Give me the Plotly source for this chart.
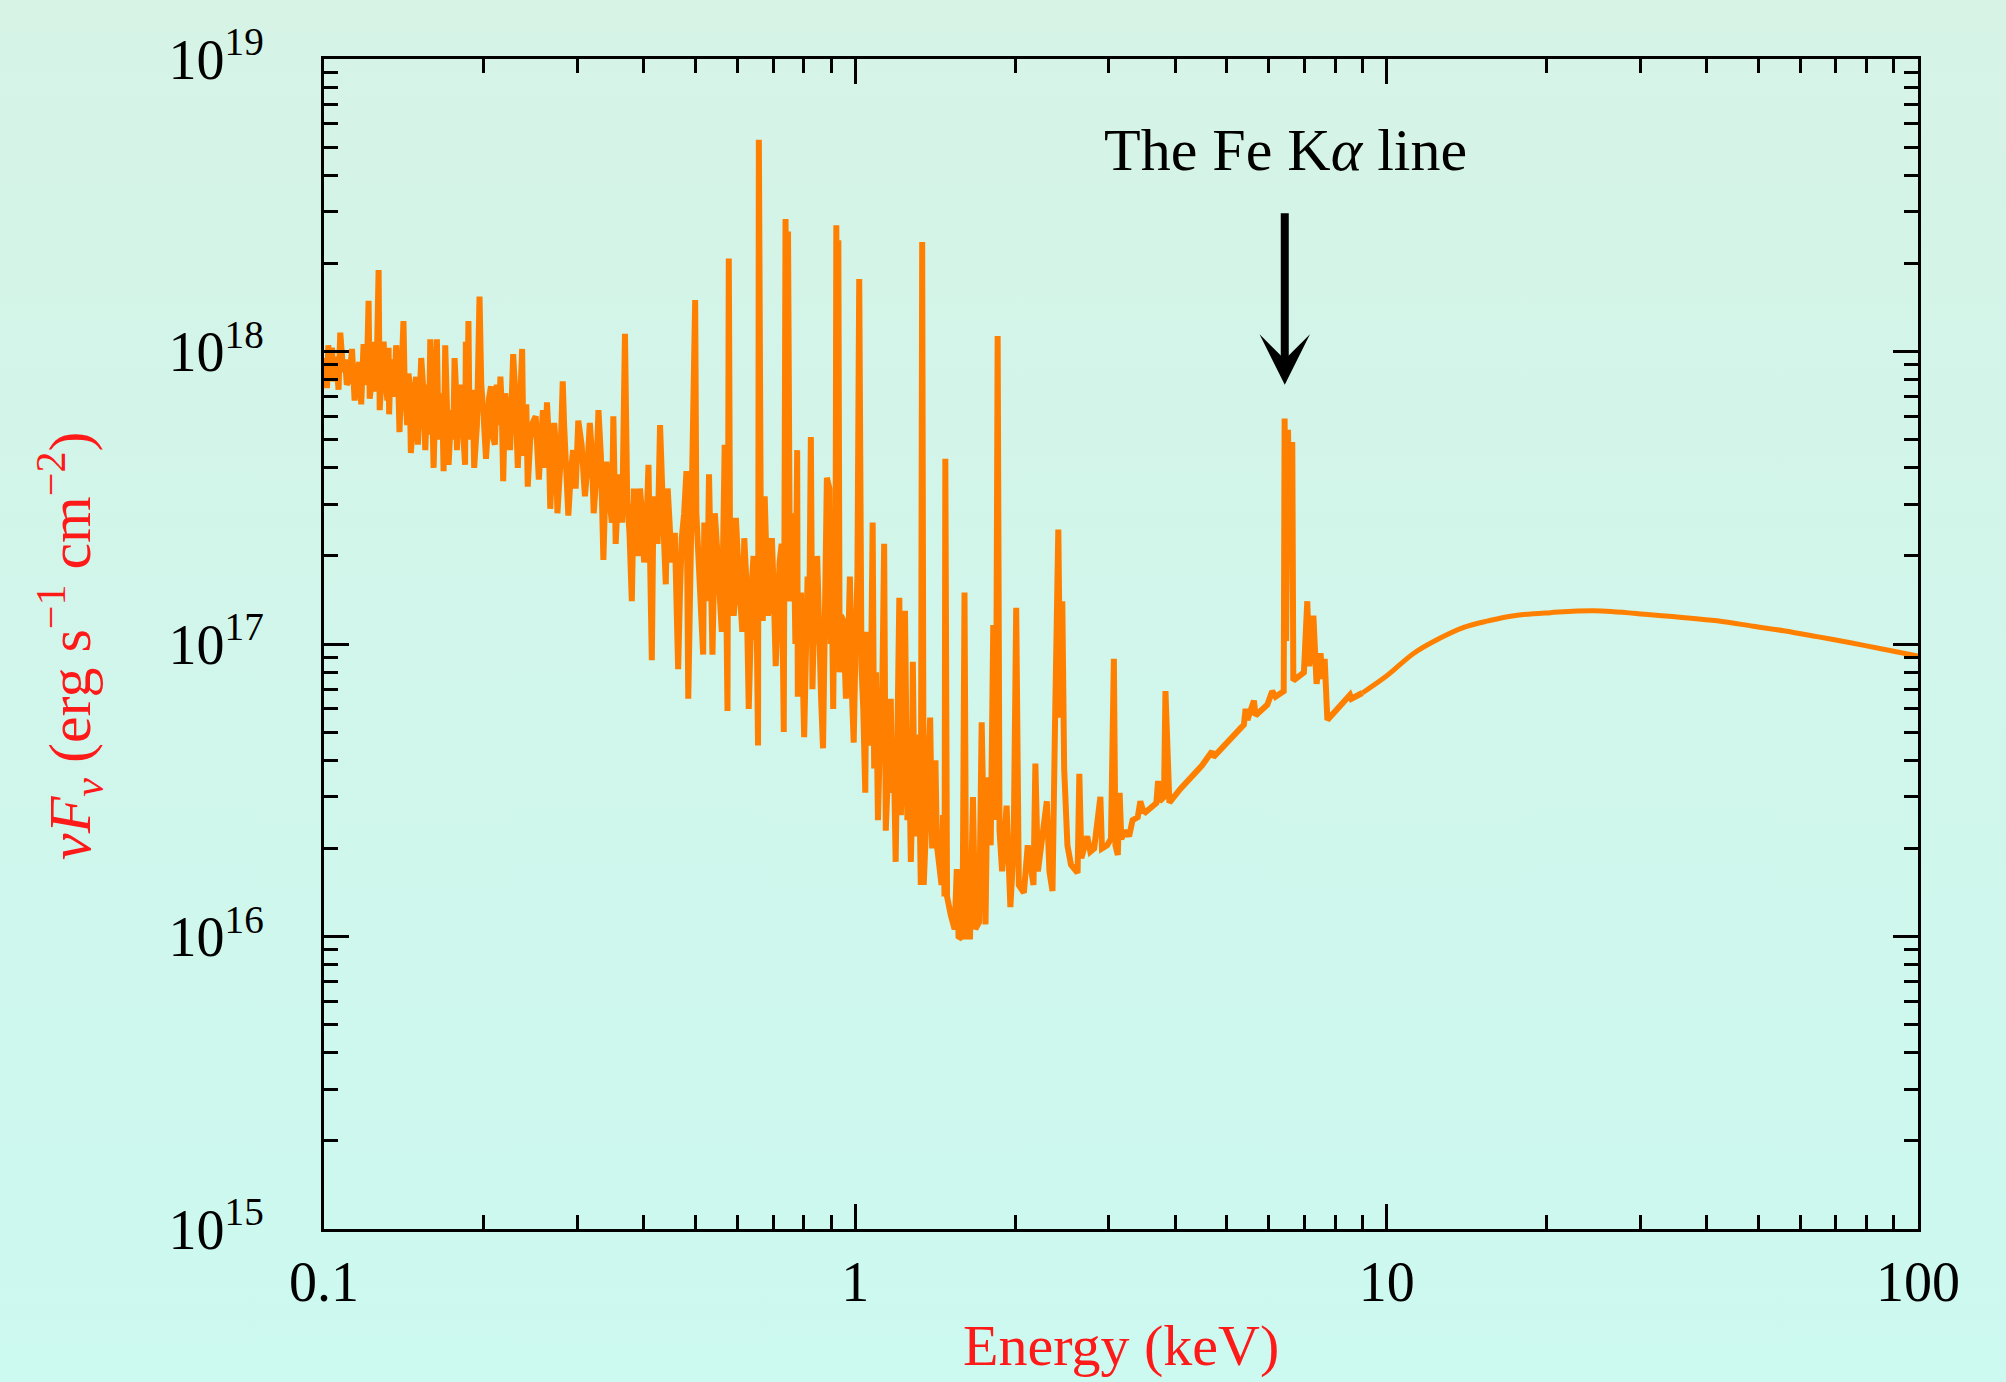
import base64
import math
import plotly.graph_objects as go

# ---------------- data ----------------
# main spectrum readings: energy (keV) and nuF_nu (erg s^-1 cm^-2)
energy_keV = [
    0.1000, 0.1013, 0.1019, 0.1035, 0.1042, 0.1057, 0.1073, 0.1087, 0.1104, 0.1129,
    0.1142, 0.1155, 0.1175, 0.1187, 0.1200, 0.1213, 0.1219, 0.1234, 0.1248, 0.1267,
    0.1273, 0.1295, 0.1308, 0.1323, 0.1326, 0.1344, 0.1367, 0.1387, 0.1411, 0.1425,
    0.1442, 0.1457, 0.1478, 0.1502, 0.1524, 0.1551, 0.1567, 0.1585, 0.1608, 0.1631,
    0.1656, 0.1679, 0.1691, 0.1716, 0.1741, 0.1761, 0.1779, 0.1809, 0.1843, 0.1849,
    0.1870, 0.1890, 0.1917, 0.1962, 0.1977, 0.2018, 0.2044, 0.2080, 0.2114, 0.2148,
    0.2174, 0.2212, 0.2270, 0.2316, 0.2360, 0.2388, 0.2418, 0.2470, 0.2537, 0.2582,
    0.2628, 0.2666, 0.2712, 0.2750, 0.2814, 0.2848, 0.2883, 0.2943, 0.3010, 0.3098,
    0.3164, 0.3218, 0.3285, 0.3356, 0.3401, 0.3458, 0.3504, 0.3540, 0.3594, 0.3685,
    0.3721, 0.3796, 0.3865, 0.3933, 0.4003, 0.4080, 0.4140, 0.4199, 0.4290, 0.4363,
    0.4434, 0.4508, 0.4640, 0.4714, 0.4810, 0.4848, 0.4932, 0.4995, 0.5047, 0.5171,
    0.5224, 0.5304, 0.5384, 0.5440, 0.5535, 0.5677, 0.5746, 0.5779, 0.5810, 0.5903,
    0.5960, 0.6074, 0.6180, 0.6301, 0.6396, 0.6470, 0.6560, 0.6583, 0.6640, 0.6752,
    0.6849, 0.6965, 0.7082, 0.7200, 0.7334, 0.7390, 0.7430, 0.7470, 0.7534, 0.7652,
    0.7772, 0.7794, 0.8011, 0.8130, 0.8247, 0.8361, 0.8475, 0.8550, 0.8694, 0.8840,
    0.8940, 0.9037, 0.9133, 0.9209, 0.9250, 0.9290, 0.9396, 0.9600, 0.9767, 0.9930,
    1.009, 1.017, 1.027, 1.044, 1.056, 1.078, 1.085, 1.103, 1.115, 1.133,
    1.141, 1.160, 1.173, 1.191, 1.210, 1.226, 1.240, 1.253, 1.272, 1.283,
    1.295, 1.315, 1.328, 1.336, 1.345, 1.383, 1.406, 1.424, 1.453, 1.472,
    1.477, 1.488, 1.513, 1.538, 1.552, 1.564, 1.578, 1.591, 1.605, 1.617,
    1.644, 1.665, 1.682, 1.710, 1.729, 1.748, 1.758, 1.773, 1.798, 1.818,
    1.838, 1.853, 1.868, 1.889, 1.926, 1.958, 1.986, 2.008, 2.031, 2.076,
    2.111, 2.164, 2.182, 2.206, 2.243, 2.293, 2.319, 2.350, 2.377, 2.410,
    2.432, 2.452, 2.472, 2.507, 2.546, 2.620, 2.640, 2.663, 2.731, 2.769,
    2.815, 2.892, 2.912, 2.977, 3.028, 3.066, 3.087, 3.119, 3.144, 3.166,
    3.235, 3.275, 3.325, 3.401, 3.439, 3.478, 3.517, 3.686, 3.713, 3.737,
    3.810, 3.834, 3.900, 4.093, 4.491, 4.694, 4.718, 5.042, 5.387, 5.426,
    5.469, 5.625, 5.666, 5.962, 6.089, 6.177, 6.401, 6.426, 6.467, 6.521,
    6.565, 6.643, 6.673, 6.986, 7.089, 7.151, 7.279, 7.380, 7.509, 7.568,
    7.644, 7.734, 8.306, 8.422, 8.530, 8.585, 8.998,
]

nuFnu = [
    9.5e17, 7.5e17, 1.05e18, 1.03e18, 7.9e17, 8.9e17, 1.16e18, 8.5e17, 7.7e17, 1.02e18,
    6.8e17, 8.5e17, 6.6e17, 1.06e18, 7.7e17, 1.49e18, 6.9e17, 1.08e18, 8.5e17, 1.9e18,
    6.3e17, 1.08e18, 7.7e17, 1.03e18, 6.1e17, 8.5e17, 1.05e18, 5.3e17, 1.27e18, 6.3e17,
    8.4e17, 4.5e17, 6.9e17, 4.8e17, 9.5e17, 4.6e17, 7.7e17, 1.1e18, 4.0e17, 1.1e18,
    5.7e17, 3.9e17, 1.05e18, 4.1e17, 6.3e17, 9.5e17, 4.6e17, 7.7e17, 4.1e17, 1.08e18,
    1.27e18, 6.3e17, 4.0e17, 1.54e18, 7.7e17, 4.3e17, 6.9e17, 5.1e17, 7.7e17, 8.2e17,
    3.6e17, 6.3e17, 9.8e17, 4.0e17, 1.02e18, 5.7e17, 3.45e17, 5.7e17, 3.65e17, 6.3e17,
    6.7e17, 2.9e17, 5.7e17, 2.8e17, 7.9e17, 4.2e17, 2.75e17, 4.6e17, 5.8e17, 3.2e17,
    5.7e17, 2.8e17, 6.3e17, 1.94e17, 4.2e17, 2.8e17, 6.0e17, 2.2e17, 3.8e17, 1.15e18,
    3.1e17, 1.4e17, 2.3e17, 3.4e17, 1.9e17, 4.1e17, 8.8e16, 2.8e17, 5.6e17, 2.3e17,
    3.4e17, 1.9e17, 8.2e16, 2.3e17, 3.9e17, 6.5e16, 2.1e17, 1.5e18, 2.3e17, 9.2e16,
    2.1e17, 3.8e17, 9.2e16, 2.8e17, 1.7e17, 4.8e17, 5.9e16, 2.08e18, 2.3e17, 1.25e17,
    2.7e17, 1.5e17, 2.3e17, 6.0e16, 1.7e17, 1.03e17, 4.5e16, 5.3e18, 2.3e17, 3.2e17,
    1.25e17, 2.3e17, 8.4e16, 1.9e17, 5.0e16, 2.84e18, 3.0e17, 2.57e18, 1.4e17, 2.8e17,
    4.6e17, 6.6e16, 4.8e16, 1.7e17, 5.1e17, 1.25e17, 2.0e17, 8.4e16, 4.4e16, 3.7e17,
    3.4e17, 1.4e17, 1.6e17, 2.7e18, 4.0e17, 2.4e18, 1.25e17, 6.5e16, 1.7e17, 4.6e16,
    1.7e17, 1.77e18, 8.4e16, 3.1e16, 5.6e16, 2.6e17, 3.75e16, 2.5e16, 5.6e16, 2.2e17,
    2.3e16, 4.6e16, 3.1e16, 1.8e16, 1.44e17, 3.75e16, 1.3e17, 2.5e16, 1.8e16, 8.7e16,
    3.1e16, 4.9e16, 1.5e16, 2.37e18, 1.5e16, 5.6e16, 3.3e16, 2.05e16, 1.5e16, 1.37e16,
    4.3e17, 1.37e16, 1.18e16, 1.06e16, 1.7e16, 1.0e16, 0.99e16, 1.0e16, 1.5e17, 1.0e16,
    1.0e16, 3.0e16, 1.06e16, 1.12e16, 5.4e16, 1.12e16, 1.1e16, 3.5e16, 2.05e16, 1.16e17,
    2.5e16, 1.13e18, 2.3e16, 1.67e16, 2.8e16, 1.26e16, 2.05e16, 1.33e17, 1.5e16, 1.41e16,
    2.05e16, 1.5e16, 3.9e16, 1.67e16, 2.05e16, 2.9e16, 1.67e16, 1.43e16, 5.6e16, 2.46e17,
    5.6e16, 1.4e17, 3.75e16, 2.05e16, 1.76e16, 1.65e16, 3.6e16, 1.85e16, 2.2e16, 1.95e16,
    2.0e16, 3.0e16, 2.0e16, 2.05e16, 2.16e16, 8.9e16, 2.05e16, 1.9e16, 3.1e16, 2.16e16,
    2.3e16, 2.2e16, 2.5e16, 2.56e16, 2.9e16, 2.7e16, 2.66e16, 2.86e16, 3.4e16, 2.9e16,
    3.0e16, 6.9e16, 2.87e16, 3.2e16, 3.84e16, 4.3e16, 4.1e16, 4.7e16, 5.3e16, 6.0e16,
    5.5e16, 6.4e16, 5.7e16, 6.2e16, 6.9e16, 6.6e16, 6.9e16, 5.9e17, 1.025e17, 5.4e17,
    2.3e17, 4.9e17, 7.5e16, 8.0e16, 1.4e17, 8.4e16, 1.25e17, 7.3e16, 9.3e16, 7.6e16,
    8.9e16, 5.5e16, 6.4e16, 6.6e16, 6.7e16, 6.5e16, 6.8e16,
]

# additional readings of the dense noisy band below ~1.5 keV
band_energy_keV = [
    0.1006, 0.1026, 0.1049, 0.1065, 0.1095, 0.1116, 0.1135, 0.1165, 0.1193, 0.1206,
    0.1226, 0.1241, 0.1258, 0.1284, 0.1316, 0.1335, 0.1355, 0.1377, 0.1398, 0.1418,
    0.1434, 0.1450, 0.1467, 0.1490, 0.1513, 0.1538, 0.1559, 0.1576, 0.1596, 0.1620,
    0.1643, 0.1668, 0.1703, 0.1728, 0.1751, 0.1770, 0.1794, 0.1825, 0.1860, 0.1880,
    0.1903, 0.1940, 0.1997, 0.2031, 0.2062, 0.2097, 0.2131, 0.2160, 0.2193, 0.2240,
    0.2293, 0.2338, 0.2374, 0.2403, 0.2444, 0.2503, 0.2560, 0.2605, 0.2647, 0.2690,
    0.2731, 0.2782, 0.2831, 0.2865, 0.2913, 0.2976, 0.3054, 0.3131, 0.3191, 0.3251,
    0.3320, 0.3379, 0.3430, 0.3481, 0.3567, 0.3640, 0.3758, 0.3830, 0.3899, 0.3968,
    0.4041, 0.4110, 0.4170, 0.4245, 0.4326, 0.4398, 0.4471, 0.4574, 0.4677, 0.4762,
    0.4890, 0.5021, 0.5109, 0.5197, 0.5264, 0.5344, 0.5412, 0.5487, 0.5606, 0.5711,
    0.5856, 0.5931, 0.6017, 0.6127, 0.6240, 0.6348, 0.6433, 0.6515, 0.6696, 0.6800,
    0.6907, 0.7023, 0.7141, 0.7267, 0.7593, 0.7712, 0.7900, 0.8070, 0.8190, 0.8304,
    0.8418, 0.8512, 0.8622, 0.8767, 0.8988, 0.9085, 0.9171, 0.9343, 0.9498, 0.9683,
    0.9848, 1.001, 1.035, 1.050, 1.067, 1.094, 1.109, 1.124, 1.150, 1.166,
    1.182, 1.200, 1.218, 1.233, 1.246, 1.262, 1.277, 1.289, 1.305, 1.321,
    1.360, 1.395, 1.415, 1.437, 1.462,
]
band_nuFnu = [
    8.0e17, 8.6e17, 9.6e17, 7.4e17, 9.4e17, 8.0e17, 8.8e17, 9.2e17, 8.0e17, 9.5e17,
    7.6e17, 7.3e17, 9.8e17, 8.4e17, 6.8e17, 9.4e17, 7.0e17, 8.9e17, 7.4e17, 8.0e17,
    5.6e17, 7.7e17, 5.5e17, 8.2e17, 6.2e17, 7.4e17, 6.0e17, 5.2e17, 7.3e17, 6.6e17,
    5.0e17, 7.2e17, 7.6e17, 5.3e17, 5.0e17, 7.8e17, 6.8e17, 5.5e17, 6.0e17, 5.0e17,
    7.4e17, 5.6e17, 6.0e17, 5.2e17, 7.6e17, 4.8e17, 5.6e17, 6.5e17, 7.2e17, 4.6e17,
    7.0e17, 6.4e17, 4.4e17, 6.6e17, 5.0e17, 6.0e17, 4.8e17, 4.0e17, 5.2e17, 4.2e17,
    4.8e17, 4.0e17, 5.6e17, 3.6e17, 3.8e17, 3.4e17, 4.8e17, 4.0e17, 4.6e17, 3.6e17,
    4.4e17, 3.0e17, 3.4e17, 2.6e17, 3.0e17, 2.6e17, 2.4e17, 3.4e17, 2.0e17, 2.8e17,
    2.4e17, 2.0e17, 3.2e17, 2.2e17, 3.0e17, 1.6e17, 2.6e17, 2.4e17, 1.5e17, 2.8e17,
    1.6e17, 2.8e17, 1.8e17, 2.6e17, 1.4e17, 1.9e17, 1.5e17, 2.2e17, 1.1e17, 2.2e17,
    1.8e17, 1.4e17, 1.9e17, 1.1e17, 1.6e17, 1.2e17, 2.0e17, 1.4e17, 1.2e17, 2.0e17,
    1.4e17, 1.5e17, 1.2e17, 2.2e17, 2.0e17, 1.0e17, 1.5e17, 9.0e16, 1.2e17, 7.0e16,
    1.0e17, 1.5e17, 6.5e16, 1.2e17, 1.0e17, 6.0e16, 9.0e16, 8.0e16, 1.2e17, 9.0e16,
    7.0e16, 1.0e17, 6.0e16, 1.1e17, 4.5e16, 8.0e16, 4.0e16, 7.0e16, 3.6e16, 6.5e16,
    4.0e16, 6.0e16, 2.6e16, 5.0e16, 3.4e16, 4.4e16, 2.5e16, 4.0e16, 2.2e16, 3.0e16,
    2.5e16, 2.0e16, 4.0e16, 1.8e16, 2.6e16,
]

# smooth high-energy continuum readings (from 9 keV to 100 keV)
cont_energy_keV = [8.998, 10.02, 11.25, 12.51, 13.97, 15.53, 17.35, 20.33, 24.54,
                   31.37, 41.88, 48.95, 55.89, 64.57, 74.65, 86.13, 100.0]
cont_nuFnu = [6.8e16, 7.8e16, 9.3e16, 1.04e17, 1.14e17, 1.20e17, 1.25e17, 1.28e17, 1.30e17,
              1.26e17, 1.20e17, 1.15e17, 1.11e17, 1.06e17, 1.01e17, 9.6e16, 9.1e16]

x_tick_values = [0.1, 1, 10, 100]
x_tick_labels = ["0.1", "1", "10", "100"]
y_tick_values = [1e15, 1e16, 1e17, 1e18, 1e19]
y_tick_labels = ["10<sup>15</sup>", "10<sup>16</sup>", "10<sup>17</sup>",
                 "10<sup>18</sup>", "10<sup>19</sup>"]
x_minor_values = [m * d for d in (0.1, 1, 10) for m in range(2, 10)]
y_minor_values = [m * d for d in (1e15, 1e16, 1e17, 1e18) for m in range(2, 10)]

fe_line_energy = 6.43      # keV, where the arrow points
fe_arrow_tip_flux = 7.7e17

# merge the line-rich readings in energy order
pairs = sorted(zip(energy_keV + band_energy_keV, nuFnu + band_nuFnu), key=lambda p: p[0])
spec_x = [p[0] for p in pairs]
spec_y = [p[1] for p in pairs]

# ---------------- figure ----------------
FONT = "Liberation Serif, Times New Roman, serif"
W, H = 2006, 1382
L, R, T, B = 324, 88, 59, 153
pw, ph = W - L - R, H - T - B
ORANGE = "#ff8000"
LW = 6

svg = ('<svg xmlns="http://www.w3.org/2000/svg" width="100" height="100" '
       'viewBox="0 0 100 100" preserveAspectRatio="none">'
       '<defs><linearGradient id="g" x1="0" y1="0" x2="0" y2="1">'
       '<stop offset="0" stop-color="#d6f3e6"/>'
       '<stop offset="1" stop-color="#ccf9f0"/>'
       '</linearGradient></defs>'
       '<rect x="0" y="0" width="100" height="100" fill="url(#g)"/></svg>')
bg_src = "data:image/svg+xml;base64," + base64.b64encode(svg.encode()).decode()

fig = go.Figure()
fig.add_trace(go.Scatter(
    x=spec_x, y=spec_y, mode="lines",
    line=dict(color=ORANGE, width=LW),
    showlegend=False, hoverinfo="skip",
))
fig.add_trace(go.Scatter(
    x=cont_energy_keV, y=cont_nuFnu, mode="lines",
    line=dict(color=ORANGE, width=LW - 1, shape="spline", smoothing=1.0),
    showlegend=False, hoverinfo="skip",
))

axis_common = dict(
    type="log", showline=True, linecolor="black", linewidth=3,
    mirror="ticks", ticks="inside", ticklen=25, tickwidth=2.5, tickcolor="black",
    showgrid=False, zeroline=False,
    tickfont=dict(family=FONT, size=56, color="black"),
)

fig.update_xaxes(
    **axis_common, range=[-1, 2],
    tickmode="array", tickvals=x_tick_values, ticktext=x_tick_labels,
    minor=dict(ticks="inside", ticklen=14, tickwidth=2.5, tickcolor="black",
               tickmode="array", tickvals=x_minor_values, showgrid=False),
    ticklabelstandoff=2,
)
fig.update_yaxes(
    **axis_common, range=[15, 19],
    tickmode="array", tickvals=y_tick_values, ticktext=y_tick_labels,
    minor=dict(ticks="inside", ticklen=14, tickwidth=2.5, tickcolor="black",
               tickmode="array", tickvals=y_minor_values, showgrid=False),
    ticklabelstandoff=46,
)

annotations = [
    dict(text="The Fe K<i>α</i> line", xref="paper", yref="paper",
         x=(1285 - L) / pw, y=(H - B - 150) / ph, xanchor="center", yanchor="middle",
         showarrow=False, font=dict(family=FONT, size=60, color="black")),
    dict(text="", xref="x", yref="y",
         x=math.log10(fe_line_energy), y=math.log10(fe_arrow_tip_flux),
         ax=0, ay=-173, axref="pixel", ayref="pixel",
         showarrow=True, arrowhead=3, arrowsize=1.05, arrowwidth=8, arrowcolor="black"),
    dict(text="Energy (keV)", xref="paper", yref="paper",
         x=0.5, y=(H - B - 1345) / ph, xanchor="center", yanchor="middle",
         showarrow=False, font=dict(family=FONT, size=58, color="#ff1a1a")),
    dict(text="<i>νF</i><sub><i>ν</i></sub> (erg s<sup>−1</sup> cm<sup>−2</sup>)",
         xref="paper", yref="paper",
         x=(70 - L) / pw, y=(H - B - 646) / ph, xanchor="center", yanchor="middle",
         textangle=-90, showarrow=False,
         font=dict(family=FONT, size=60, color="#ff1a1a")),
]

fig.update_layout(
    width=W, height=H,
    margin=dict(l=L, r=R, t=T, b=B, pad=0),
    paper_bgcolor="#d2f6ea",
    plot_bgcolor="rgba(0,0,0,0)",
    annotations=annotations,
    images=[dict(source=bg_src, xref="paper", yref="paper",
                 x=-L / pw, y=(H - B) / ph, sizex=W / pw, sizey=H / ph,
                 xanchor="left", yanchor="top", sizing="stretch", layer="below")],
    showlegend=False,
)

fig.write_html("out.html", config={"displayModeBar": False},
               post_script="document.body.style.margin='0';")
